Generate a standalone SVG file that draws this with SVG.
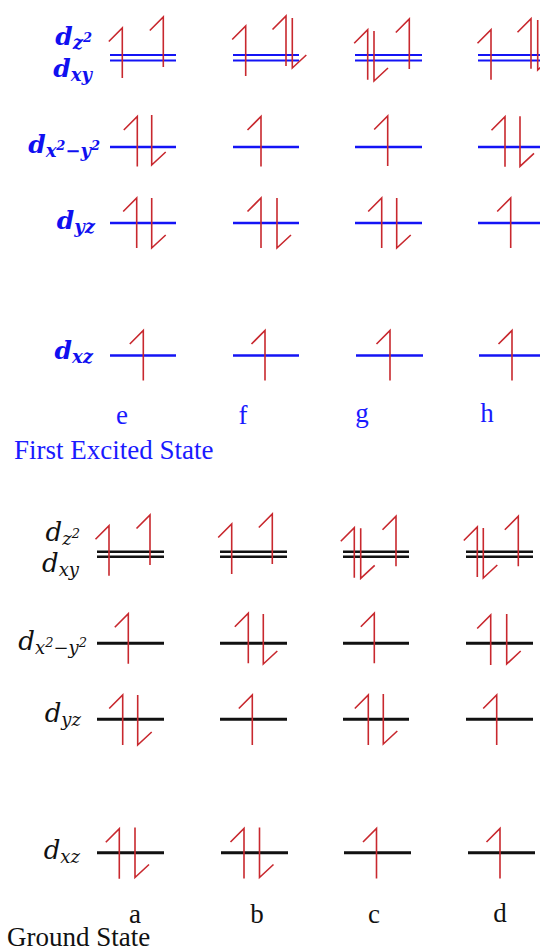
<svg xmlns="http://www.w3.org/2000/svg" xmlns:xlink="http://www.w3.org/1999/xlink" width="540" height="951" viewBox="0 0 540 951">
<style>
.ar{fill:none;stroke:#c8282e;stroke-width:1.6;stroke-linejoin:miter}
.bl{stroke:#1414f5;stroke-width:2.6;fill:none}
.bl2{stroke:#1414f5;stroke-width:2;fill:none}
.bk{stroke:#111;stroke-width:3;fill:none}
.bk2{stroke:#111;stroke-width:2.4;fill:none}
.lt{font-family:"DejaVu Serif",serif;font-style:italic;font-weight:bold;font-size:25px;fill:#1010f0}
.lg{font-family:"DejaVu Serif",serif;font-style:italic;font-size:26px;fill:#111}
.s{font-size:18px}
.ss{font-size:13px}
.cap{font-family:"Liberation Serif","Times New Roman",serif;font-size:27px}
.cb{fill:#1a1aff}
.ck{fill:#111}
</style>
<defs>
<path id="u" class="ar" d="M0,25V-25l-13.5,13.5"/>
<path id="d" class="ar" d="M0,-25V25l14,-13"/>
</defs>

<g id="labels-excited">
<text class="lt" x="92" y="45" text-anchor="end">d<tspan class="s" dy="4">z</tspan><tspan class="ss" dy="-7">2</tspan></text>
<text class="lt" x="92" y="77" text-anchor="end">d<tspan class="s" dy="4">xy</tspan></text>
<text class="lt" x="100" y="153" text-anchor="end">d<tspan class="s" dy="4">x</tspan><tspan class="ss" dy="-7">2</tspan><tspan class="s" dy="7">−y</tspan><tspan class="ss" dy="-7">2</tspan></text>
<text class="lt" x="95" y="229" text-anchor="end">d<tspan class="s" dy="4">yz</tspan></text>
<text class="lt" x="93" y="359" text-anchor="end">d<tspan class="s" dy="4">xz</tspan></text>
</g>

<g id="state-e">
<path class="bl2" d="M110,55H176M110,60.5H176"/>
<path class="bl" d="M110,147H176M110,223H176M110,355.5H176"/>
<use xlink:href="#u" x="122.3" y="53"/>
<use xlink:href="#u" x="163.3" y="42"/>
<use xlink:href="#u" x="137.3" y="141.5"/>
<use xlink:href="#d" x="151.7" y="140"/>
<use xlink:href="#u" x="136.7" y="223"/>
<use xlink:href="#d" x="151.7" y="223"/>
<use xlink:href="#u" x="143.3" y="355.5"/>
<text class="cap cb" x="122" y="424" text-anchor="middle">e</text>
</g>

<g id="state-f">
<path class="bl2" d="M233,55H299M233,60.5H299"/>
<path class="bl" d="M233,147H299M233,223H299M233,355.5H299"/>
<use xlink:href="#u" x="245.7" y="51"/>
<use xlink:href="#u" x="286" y="41"/>
<use xlink:href="#d" x="292.3" y="43"/>
<use xlink:href="#u" x="261" y="141.5"/>
<use xlink:href="#u" x="261" y="223"/>
<use xlink:href="#d" x="277" y="223"/>
<use xlink:href="#u" x="265" y="355.5"/>
<text class="cap cb" x="243" y="424" text-anchor="middle">f</text>
</g>

<g id="state-g">
<path class="bl2" d="M355,55H422M355,60.5H422"/>
<path class="bl" d="M355,147H422M355,223H422M356,355.5H423"/>
<use xlink:href="#u" x="367.7" y="54.7"/>
<use xlink:href="#d" x="374" y="56"/>
<use xlink:href="#u" x="409.3" y="44"/>
<use xlink:href="#u" x="387.7" y="141"/>
<use xlink:href="#u" x="381.7" y="223"/>
<use xlink:href="#d" x="396.7" y="223"/>
<use xlink:href="#u" x="390" y="355.5"/>
<text class="cap cb" x="362" y="422" text-anchor="middle">g</text>
</g>

<g id="state-h">
<path class="bl2" d="M478,55H544M478,60.5H544"/>
<path class="bl" d="M478,147H544M478,223H544M479,355.5H545"/>
<use xlink:href="#u" x="491" y="54.7"/>
<use xlink:href="#u" x="531" y="43.8"/>
<use xlink:href="#d" x="537.7" y="45"/>
<use xlink:href="#u" x="505" y="141.7"/>
<use xlink:href="#d" x="520" y="141.3"/>
<use xlink:href="#u" x="510.7" y="223"/>
<use xlink:href="#u" x="512" y="355.5"/>
<text class="cap cb" x="487" y="421.5" text-anchor="middle">h</text>
</g>

<text id="title-excited" class="cap cb" x="14" y="459">First Excited State</text>

<g id="labels-ground">
<text class="lg" x="80" y="540.5" text-anchor="end">d<tspan class="s" dy="4">z</tspan><tspan class="ss" dy="-7">2</tspan></text>
<text class="lg" x="79" y="572" text-anchor="end">d<tspan class="s" dy="4">xy</tspan></text>
<text class="lg" x="87" y="650" text-anchor="end">d<tspan class="s" dy="4">x</tspan><tspan class="ss" dy="-7">2</tspan><tspan class="s" dy="7">−y</tspan><tspan class="ss" dy="-7">2</tspan></text>
<text class="lg" x="81" y="722" text-anchor="end">d<tspan class="s" dy="4">yz</tspan></text>
<text class="lg" x="80" y="859" text-anchor="end">d<tspan class="s" dy="4">xz</tspan></text>
</g>

<g id="state-a">
<path class="bk2" d="M97,551.7H164M97,556.7H164"/>
<path class="bk" d="M97,643.3H164M97,719.3H164M97,852.8H164"/>
<use xlink:href="#u" x="109" y="550.7"/>
<use xlink:href="#u" x="150" y="540"/>
<use xlink:href="#u" x="128.3" y="638.7"/>
<use xlink:href="#u" x="122.7" y="720"/>
<use xlink:href="#d" x="137.7" y="720"/>
<use xlink:href="#u" x="119.3" y="853.7"/>
<use xlink:href="#d" x="135" y="852.5"/>
<text class="cap ck" x="135" y="923" text-anchor="middle">a</text>
</g>

<g id="state-b">
<path class="bk2" d="M220,551.7H287M220,556.7H287"/>
<path class="bk" d="M220,643.3H287M220,719.3H287M221,852.8H288"/>
<use xlink:href="#u" x="231.7" y="549"/>
<use xlink:href="#u" x="272.3" y="539"/>
<use xlink:href="#u" x="248.3" y="638.3"/>
<use xlink:href="#d" x="263.3" y="639"/>
<use xlink:href="#u" x="252.3" y="720"/>
<use xlink:href="#u" x="244" y="853.5"/>
<use xlink:href="#d" x="259.5" y="852.5"/>
<text class="cap ck" x="257" y="923" text-anchor="middle">b</text>
</g>

<g id="state-c">
<path class="bk2" d="M343,551.7H409M343,556.7H409"/>
<path class="bk" d="M343,643.3H409M343,719.3H409M344,852.8H411"/>
<use xlink:href="#u" x="354.3" y="552.8"/>
<use xlink:href="#d" x="360.7" y="553.3"/>
<use xlink:href="#u" x="396" y="541.2"/>
<use xlink:href="#u" x="374.3" y="638.3"/>
<use xlink:href="#u" x="368.3" y="720"/>
<use xlink:href="#d" x="383.3" y="719"/>
<use xlink:href="#u" x="376.5" y="853.5"/>
<text class="cap ck" x="374" y="923" text-anchor="middle">c</text>
</g>

<g id="state-d">
<path class="bk2" d="M466,551.7H533M466,556.7H533"/>
<path class="bk" d="M466,643.3H533M466,719.3H533M468,852.8H535"/>
<use xlink:href="#u" x="477.3" y="552"/>
<use xlink:href="#d" x="483.3" y="553"/>
<use xlink:href="#u" x="518.3" y="541.3"/>
<use xlink:href="#u" x="490.7" y="640"/>
<use xlink:href="#d" x="506.7" y="639"/>
<use xlink:href="#u" x="496.7" y="720"/>
<use xlink:href="#u" x="500" y="853.5"/>
<text class="cap ck" x="500" y="922" text-anchor="middle">d</text>
</g>

<text id="title-ground" class="cap ck" x="7" y="946">Ground State</text>
</svg>
